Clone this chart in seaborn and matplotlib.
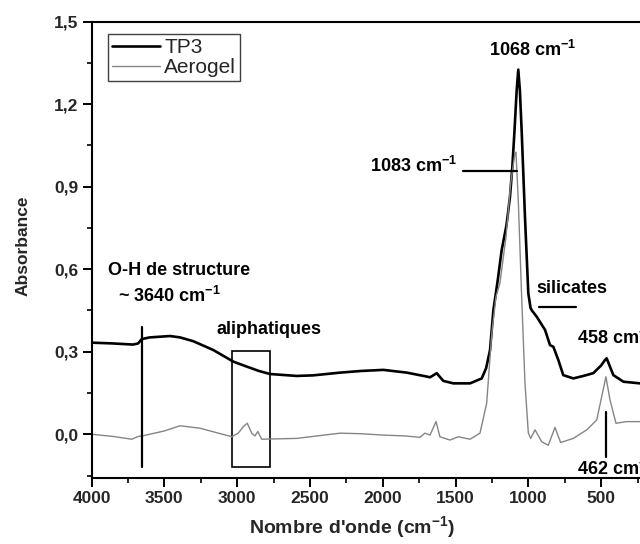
import matplotlib
matplotlib.use("Agg")
import matplotlib.pyplot as plt
from matplotlib.patches import Rectangle
from matplotlib.ticker import MultipleLocator, FixedLocator
import pandas as pd
import seaborn as sns

# -----------------------------------------------------------------------------
# Data (wavenumber in cm-1, absorbance)
# -----------------------------------------------------------------------------
tp3_wn = [4000, 3850, 3715, 3680, 3655, 3600, 3461, 3392, 3300, 3163, 3026,
          2934, 2850, 2774, 2591, 2479, 2293, 2150, 1996, 1835, 1700, 1675,
          1629, 1584, 1515, 1400, 1320, 1290, 1263, 1240, 1210, 1183, 1150,
          1126, 1110, 1096, 1080, 1069, 1058, 1045, 1023, 1000, 985, 977,
          942, 885, 851, 828, 794, 760, 691, 622, 554, 500, 473, 462, 416,
          347, 233]
tp3_abs = [0.333, 0.330, 0.326, 0.330, 0.346, 0.352, 0.357, 0.352, 0.338,
           0.306, 0.264, 0.246, 0.230, 0.219, 0.212, 0.214, 0.224, 0.230,
           0.234, 0.224, 0.210, 0.207, 0.222, 0.194, 0.185, 0.185, 0.203,
           0.240, 0.306, 0.451, 0.560, 0.669, 0.760, 0.863, 0.970, 1.093,
           1.250, 1.325, 1.250, 1.094, 0.790, 0.512, 0.460, 0.451, 0.427,
           0.379, 0.324, 0.318, 0.270, 0.215, 0.203, 0.212, 0.222, 0.250,
           0.270, 0.276, 0.215, 0.191, 0.185]

aero_wn = [4000, 3850, 3724, 3680, 3644, 3500, 3392, 3255, 3100, 3037, 2992,
           2957, 2930, 2900, 2877, 2858, 2831, 2591, 2293, 2150, 1996, 1850,
           1744, 1710, 1675, 1634, 1607, 1538, 1481, 1400, 1332, 1286, 1251,
           1222, 1195, 1153, 1121, 1092, 1085, 1069, 1045, 1023, 1000, 984,
           954, 908, 863, 817, 778, 691, 599, 530, 496, 467, 439, 398, 324,
           233]
aero_abs = [0.000, -0.008, -0.018, -0.008, -0.005, 0.012, 0.031, 0.022,
            0.000, -0.009, 0.004, 0.028, 0.040, 0.004, -0.006, 0.010, -0.018,
            -0.015, 0.004, 0.002, -0.003, -0.006, -0.011, 0.004, -0.003,
            0.046, -0.009, -0.021, -0.009, -0.018, 0.004, 0.113, 0.367, 0.500,
            0.549, 0.718, 0.912, 1.020, 1.025, 0.851, 0.488, 0.186, 0.005,
            -0.015, 0.016, -0.027, -0.040, 0.025, -0.030, -0.015, 0.016,
            0.052, 0.137, 0.209, 0.125, 0.040, 0.046, 0.046]

y_ticks = [0.0, 0.3, 0.6, 0.9, 1.2, 1.5]
y_tick_labels = ["0,0", "0,3", "0,6", "0,9", "1,2", "1,5"]
x_ticks = [4000, 3500, 3000, 2500, 2000, 1500, 1000, 500]

sns.set_style("ticks")
plt.rcParams['font.family'] = ['Liberation Sans', 'DejaVu Sans']
plt.rcParams['mathtext.fontset'] = 'custom'
plt.rcParams['mathtext.rm'] = 'Liberation Sans'
plt.rcParams['mathtext.bf'] = 'Liberation Sans:bold'

df_tp3 = pd.DataFrame({'wn': tp3_wn, 'abs': tp3_abs})
df_aero = pd.DataFrame({'wn': aero_wn, 'abs': aero_abs})

fig = plt.figure(figsize=(6.4, 5.44), dpi=100)
ax = fig.add_axes([91.5 / 640, 1 - 478.3 / 544, 548.5 / 640, 456.8 / 544])

sns.lineplot(data=df_tp3, x='wn', y='abs', ax=ax, color='black',
             linewidth=1.9, estimator=None, label='TP3')
sns.lineplot(data=df_aero, x='wn', y='abs', ax=ax, color='#858585',
             linewidth=1.0, estimator=None, label='Aerogel')

ax.set_xlim(4000, 233)
ax.set_ylim(-0.16, 1.5)
ax.set_xticks(x_ticks)
ax.xaxis.set_minor_locator(MultipleLocator(250))
ax.set_yticks(y_ticks)
ax.set_yticklabels(y_tick_labels)
ax.yaxis.set_minor_locator(FixedLocator([-0.15, 0.15, 0.45, 0.75, 1.05, 1.35]))

for side in ['left', 'bottom', 'top']:
    ax.spines[side].set_linewidth(1.5)
    ax.spines[side].set_color('black')
ax.spines['right'].set_visible(False)

ax.tick_params(which='major', direction='out', length=6.5, width=1.4,
               labelsize=12.5, pad=3, color='black')
ax.tick_params(which='minor', direction='out', length=3.5, width=1.2,
               color='black')
for lab in ax.get_xticklabels() + ax.get_yticklabels():
    lab.set_fontweight('bold')

ax.set_xlabel(r"Nombre d'onde (cm$^{\mathbf{-1}}$)", fontsize=14,
              fontweight='bold')
ax.set_ylabel("Absorbance", fontsize=12.5, fontweight='bold')
ax.xaxis.set_label_coords(0.475, -0.08)
ax.yaxis.set_label_coords(-0.112, 0.51)

leg = ax.legend(loc='upper left', bbox_to_anchor=(0.03, 0.973),
                borderaxespad=0, fontsize=15, fancybox=False, framealpha=1,
                edgecolor='#404040', handlelength=2.3, handletextpad=0.2,
                labelspacing=0.05, borderpad=0.2)
leg.get_frame().set_linewidth(1.0)

# annotations
ann = dict(fontsize=13, fontweight='bold', color='black')
cm = r" cm$^{\mathbf{-1}}$"
ax.text(968, 1.396, "1068" + cm, ha='center', va='center', **ann)
ax.text(2090, 0.976, "1083" + cm, ha='left', va='center', **ann)
ax.plot([1447, 1077], [0.957, 0.957], color='black', lw=1.6)

ax.text(3885, 0.594, "O-H de structure", ha='left', va='center', **ann)
ax.text(3816, 0.502, "~ 3640" + cm, ha='left', va='center', **ann)
ax.plot([3655, 3655], [0.39, -0.12], color='black', lw=1.6)

ax.text(3140, 0.379, "aliphatiques", ha='left', va='center', **ann)
ax.add_patch(Rectangle((2774, -0.118), 3033 - 2774, 0.304 + 0.118,
                       fill=False, edgecolor='black', lw=1.2))

ax.text(942, 0.530, "silicates", ha='left', va='center', **ann)
ax.plot([926, 672], [0.464, 0.464], color='black', lw=1.6)

ax.text(666, 0.350, "458" + cm, ha='left', va='center', clip_on=False, **ann)
ax.plot([466, 466], [0.082, -0.081], color='black', lw=1.6)
ax.text(666, -0.126, "462" + cm, ha='left', va='center', clip_on=False, **ann)

fig.savefig("out.png", dpi=100)
